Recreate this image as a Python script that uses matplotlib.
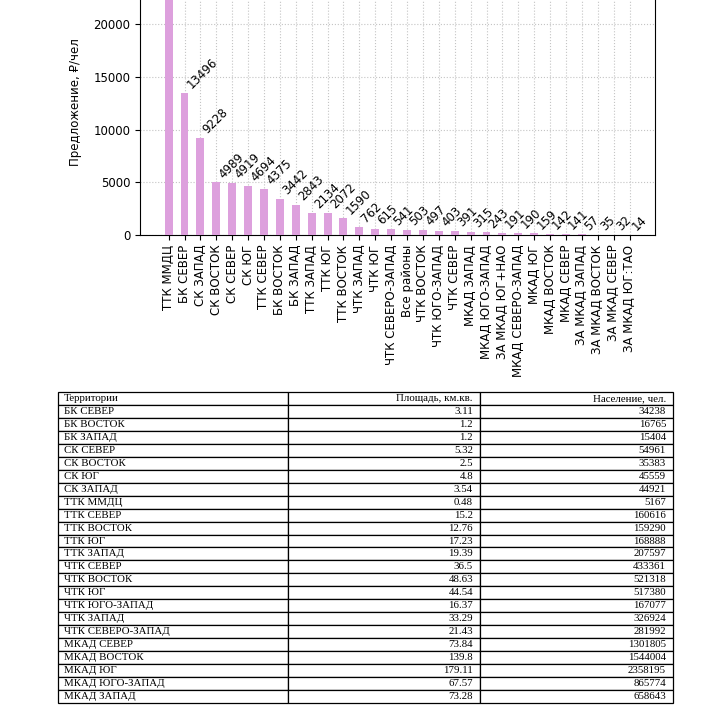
import matplotlib
matplotlib.use("Agg")
import matplotlib.pyplot as plt

# предложение на человека по территориям (отсортировано)
zones = ["ТТК ММДЦ", "БК СЕВЕР", "СК ЗАПАД", "СК ВОСТОК", "СК СЕВЕР", "СК ЮГ",
         "ТТК СЕВЕР", "БК ВОСТОК", "БК ЗАПАД", "ТТК ЗАПАД", "ТТК ЮГ", "ТТК ВОСТОК",
         "ЧТК ЗАПАД", "ЧТК ЮГ", "ЧТК СЕВЕРО-ЗАПАД", "Все районы", "ЧТК ВОСТОК",
         "ЧТК ЮГО-ЗАПАД", "ЧТК СЕВЕР", "МКАД ЗАПАД", "МКАД ЮГО-ЗАПАД",
         "ЗА МКАД ЮГ+НАО", "МКАД СЕВЕРО-ЗАПАД", "МКАД ЮГ", "МКАД ВОСТОК",
         "МКАД СЕВЕР", "ЗА МКАД ЗАПАД", "ЗА МКАД ВОСТОК", "ЗА МКАД СЕВЕР",
         "ЗА МКАД ЮГ:ТАО"]
offer = [24000, 13496, 9228, 4989, 4919, 4694, 4375, 3442, 2843, 2134, 2072, 1590,
         762, 615, 541, 503, 497, 403, 391, 315, 243, 191, 190, 159, 142, 141,
         57, 35, 32, 14]

# таблица территорий
terr = ["БК СЕВЕР", "БК ВОСТОК", "БК ЗАПАД", "СК СЕВЕР", "СК ВОСТОК", "СК ЮГ",
        "СК ЗАПАД", "ТТК ММДЦ", "ТТК СЕВЕР", "ТТК ВОСТОК", "ТТК ЮГ", "ТТК ЗАПАД",
        "ЧТК СЕВЕР", "ЧТК ВОСТОК", "ЧТК ЮГ", "ЧТК ЮГО-ЗАПАД", "ЧТК ЗАПАД",
        "ЧТК СЕВЕРО-ЗАПАД", "МКАД СЕВЕР", "МКАД ВОСТОК", "МКАД ЮГ",
        "МКАД ЮГО-ЗАПАД", "МКАД ЗАПАД"]
area = ["3.11", "1.2", "1.2", "5.32", "2.5", "4.8", "3.54", "0.48", "15.2", "12.76",
        "17.23", "19.39", "36.5", "48.63", "44.54", "16.37", "33.29", "21.43",
        "73.84", "139.8", "179.11", "67.57", "73.28"]
popul = ["34238", "16765", "15404", "54961", "35383", "45559", "44921", "5167",
         "160616", "159290", "168888", "207597", "433361", "521318", "517380",
         "167077", "326924", "281992", "1301805", "1544004", "2358195", "865774",
         "658643"]
header = ["Территории", "Площадь, км.кв.", "Население, чел."]

W, H = 706, 705
fig = plt.figure(figsize=(W / 100, H / 100), dpi=100)
fs = 8.5

# график обрезан сверху, как на скриншоте
top_px = -30
ax = fig.add_axes([140 / W, (H - 235) / H, 515 / W, (235 - top_px) / H])
x = list(range(len(zones)))
ax.bar(x, offer, width=0.5, color="plum", zorder=3)
for xi, v in zip(x, offer):
    ax.text(xi, v + 150, str(v), rotation=45, ha="left", va="bottom", fontsize=fs)
ax.set_ylim(0, (235 - top_px) / 52.7 * 5000)
ax.set_xlim(-1.8, len(zones) - 1 + 1.6)
ax.set_xticks(x)
ax.set_xticklabels(zones, rotation=90, fontsize=fs)
ax.set_yticks([0, 5000, 10000, 15000, 20000])
ax.tick_params(axis="y", labelsize=fs)
ax.set_ylabel("Предложение, ₽/чел", fontsize=fs, labelpad=8)
ax.grid(True, linestyle=":", color="#c4c4c4", linewidth=0.8, zorder=0)

# таблица
tax = fig.add_axes([0, 0, 1, 1])
tax.axis("off")
rows = [header] + [[t, a, p] for t, a, p in zip(terr, area, popul)]
left, right = 58, 673
c1, c2 = 288, 480
widths = [c1 - left, c2 - c1, right - c2]
tb = tax.table(cellText=rows, colWidths=widths,
               bbox=[left / W, 2 / H, (right - left) / W, 311 / H])
tb.auto_set_font_size(False)
for (r, c), cell in tb.get_celld().items():
    cell.set_linewidth(0.9)
    cell.set_edgecolor("black")
    txt = cell.get_text()
    txt.set_fontfamily("Liberation Serif")
    txt.set_fontsize(7.8)
    if c == 0:
        cell.PAD = 6 / widths[c]
        txt.set_horizontalalignment("left")
    else:
        cell.PAD = 7 / widths[c]
        txt.set_horizontalalignment("right")

fig.savefig("out.png", dpi=100, facecolor="white")
